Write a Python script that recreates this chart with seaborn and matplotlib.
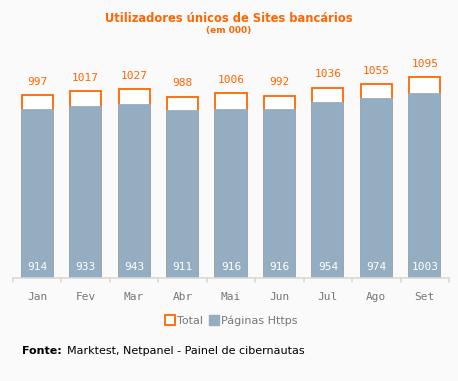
import pandas as pd
import numpy as np
import matplotlib.pyplot as plt
import seaborn as sns

meses = ['Jan', 'Fev', 'Mar', 'Abr', 'Mai', 'Jun', 'Jul', 'Ago', 'Set']
total = [997, 1017, 1027, 988, 1006, 992, 1036, 1055, 1095]
https = [914, 933, 943, 911, 916, 916, 954, 974, 1003]

laranja = '#ff6600'
azul = '#94adc1'
fundo = '#fafafa'

sns.set_style('white')
plt.rcParams['font.family'] = ['DejaVu Sans']

df = pd.DataFrame({'mes': meses, 'Total': total, 'Https': https})

fig = plt.figure(figsize=(4.58, 3.81), dpi=100, facecolor=fundo)
ax = fig.add_axes([13 / 458, 1 - 278 / 381, 436 / 458, 218 / 381])
ax.set_facecolor(fundo)

# total as white bars with orange outline, https drawn over it (same edge width so it hides the orange sides)
sns.barplot(data=df, x='mes', y='Total', color='white', edgecolor=laranja,
            linewidth=1.3, width=0.64, ax=ax)
sns.barplot(data=df, x='mes', y='Https', color=azul, saturation=1,
            edgecolor=azul, linewidth=1.3, width=0.64, ax=ax)

ax.set_ylim(0, 1187)
ax.set_xlim(-0.5, len(meses) - 0.5)

for i, (t, h) in enumerate(zip(total, https)):
    ax.annotate(str(t), (i, t), xytext=(0, 6), textcoords='offset points',
                ha='center', va='bottom', color=laranja, fontsize=8,
                family='DejaVu Sans Mono')
    ax.annotate(str(h), (i, 0), xytext=(0, 8), textcoords='offset points',
                ha='center', va='center', color='white', fontsize=8,
                family='DejaVu Sans Mono')

for s in ['top', 'right', 'left']:
    ax.spines[s].set_visible(False)
ax.spines['bottom'].set_color('#d9d9d9')
ax.spines['bottom'].set_linewidth(1.2)
ax.set_yticks([])
ax.set_xlabel('')
ax.set_ylabel('')
ax.set_xticks(np.arange(len(meses)))
ax.set_xticklabels(meses, family='DejaVu Sans Mono', fontsize=8, color='#777777')
ax.tick_params(axis='x', length=0, pad=10)
# separators between categories
for b in np.arange(-0.5, len(meses)):
    ax.plot([b, b], [0, -20], color='#d9d9d9', lw=1.2, clip_on=False)

fig.text(0.5, 1 - 18 / 381, 'Utilizadores únicos de Sites bancários', ha='center',
         va='center', color=laranja, fontsize=8.3, fontweight='bold')
fig.text(0.5, 1 - 31 / 381, '(em 000)', ha='center', va='center',
         color=laranja, fontsize=6.5, fontweight='bold')

handles = [plt.Line2D([], [], marker='s', ls='none', markersize=6.5,
                      markerfacecolor='white', markeredgecolor=laranja, markeredgewidth=1.3),
           plt.Line2D([], [], marker='s', ls='none', markersize=6.5,
                      markerfacecolor=azul, markeredgecolor=azul)]
leg = fig.legend(handles, ['Total', 'Páginas Https'], loc='center',
                 bbox_to_anchor=(231 / 458, 1 - 321 / 381), ncol=2, frameon=False,
                 fontsize=8, handletextpad=0.1, columnspacing=0.5, handlelength=1)
for t in leg.get_texts():
    t.set_color('#777777')

fig.text(22 / 458, 1 - 351 / 381, 'Fonte:', ha='left', va='center',
         fontsize=8, fontweight='bold', color='black')
fig.text(67 / 458, 1 - 351 / 381, 'Marktest, Netpanel - Painel de cibernautas',
         ha='left', va='center', fontsize=8, color='black')

fig.savefig('out.png', dpi=100, facecolor=fundo)
